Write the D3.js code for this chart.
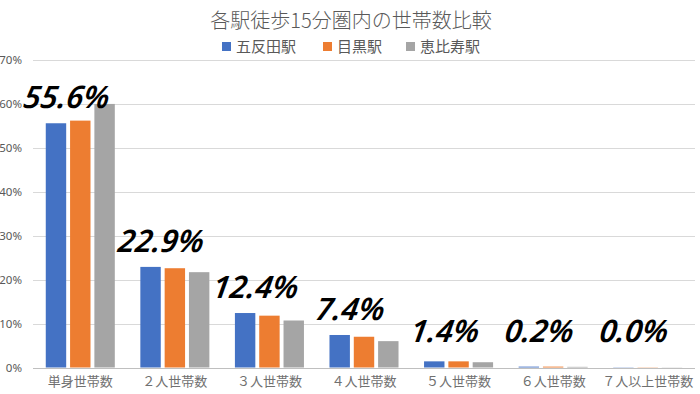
<!DOCTYPE html>
<html>
<head>
<meta charset="utf-8">
<script src="https://cdn.jsdelivr.net/npm/d3@7"></script>
<style>
body { margin: 0; background: #fff; }
svg { display: block; }
</style>
</head>
<body>
<div id="chart"></div>
<script>
var categories = ["単身世帯数", "２人世帯数", "３人世帯数", "４人世帯数", "５人世帯数", "６人世帯数", "７人以上世帯数"];
var stations = ["五反田駅", "目黒駅", "恵比寿駅"];
var gotanda = [55.6, 22.9, 12.4, 7.4, 1.4, 0.2, 0.05];
var meguro = [56.2, 22.6, 11.8, 7.0, 1.4, 0.2, 0.05];
var ebisu = [60.0, 21.7, 10.7, 6.0, 1.2, 0.15, 0.04];
var labelTexts = ["55.6%", "22.9%", "12.4%", "7.4%", "1.4%", "0.2%", "0.0%"];
var yTicks = [0, 10, 20, 30, 40, 50, 60, 70];
var colors = ["#4472C4", "#ED7D31", "#A5A5A5"];

var width = 700, height = 394;
var margin = {top: 60, right: 5, bottom: 26, left: 33};

var svg = d3.select("#chart").append("svg")
    .attr("width", width)
    .attr("height", height);

var x = d3.scaleBand()
    .domain(categories)
    .range([margin.left, width - margin.right])
    .paddingInner(0.27)
    .paddingOuter(0.135);

var x1 = d3.scaleBand()
    .domain(stations)
    .range([0, x.bandwidth()])
    .paddingInner(0.16);

var y = d3.scaleLinear()
    .domain([0, 70])
    .range([height - margin.bottom - 0.5, margin.top]);

// gridlines
svg.append("g")
    .selectAll("line")
    .data(yTicks)
    .enter().append("line")
    .attr("x1", margin.left)
    .attr("x2", width - margin.right)
    .attr("y1", function (d) { return Math.round(y(d)) + 0.5; })
    .attr("y2", function (d) { return Math.round(y(d)) + 0.5; })
    .attr("stroke", function (d) { return d == 0 ? "#bfbfbf" : "#d9d9d9"; })
    .attr("stroke-width", 1);

// y axis labels
var yAxis = d3.axisLeft(y)
    .tickValues(yTicks)
    .tickFormat(function (d) { return d + "%"; })
    .tickSize(0)
    .tickPadding(0);

var gy = svg.append("g")
    .attr("transform", "translate(" + (margin.left - 11) + ",0)")
    .call(yAxis);
gy.select(".domain").remove();
gy.selectAll("text")
    .attr("fill", "#595959")
    .style("font-family", "'Noto Sans', sans-serif")
    .style("font-size", "11.5px");

// bars
var series = [gotanda, meguro, ebisu];
series.forEach(function (vals, s) {
    svg.append("g")
        .selectAll("rect")
        .data(vals)
        .enter().append("rect")
        .attr("x", function (d, i) { return x(categories[i]) + x1(stations[s]); })
        .attr("width", x1.bandwidth())
        .attr("y", function (d) { return y(d); })
        .attr("height", function (d) { return y(0) - y(d); })
        .attr("fill", colors[s]);
});

// x axis labels
var xAxis = d3.axisBottom(x).tickSize(0).tickPadding(0);
var gx = svg.append("g")
    .attr("transform", "translate(0," + (height - 17) + ")")
    .call(xAxis);
gx.select(".domain").remove();
gx.selectAll("text")
    .attr("fill", "#707070")
    .style("font-family", "'Noto Sans CJK JP', sans-serif")
    .style("font-size", "13px");

// big value labels
svg.append("g")
    .selectAll("text")
    .data(labelTexts)
    .enter().append("text")
    .attr("transform", function (d, i) {
        var lx = x(categories[i]) + x.bandwidth() / 2 - 15;
        var ly = Math.min(y(gotanda[i]) - 15, 342);
        return "translate(" + lx + "," + ly + ") skewX(-8)";
    })
    .attr("text-anchor", "middle")
    .style("font-family", "'Noto Sans', sans-serif")
    .style("font-style", "italic")
    .style("font-weight", "600")
    .style("font-size", "31px")
    .attr("fill", "#000")
    .text(function (d) { return d; });

// title
svg.append("text")
    .attr("x", 351)
    .attr("y", 28)
    .attr("text-anchor", "middle")
    .attr("fill", "#595959")
    .style("font-family", "'Noto Sans CJK JP', sans-serif")
    .style("font-weight", "300")
    .style("font-size", "20px")
    .text("各駅徒歩15分圏内の世帯数比較");

// legend
var legendX = [222, 323, 406];
var legend = svg.append("g");
stations.forEach(function (s, i) {
    legend.append("rect")
        .attr("x", legendX[i])
        .attr("y", 42)
        .attr("width", 9)
        .attr("height", 9)
        .attr("fill", colors[i]);
    legend.append("text")
        .attr("x", legendX[i] + 14)
        .attr("y", 52)
        .attr("fill", "#595959")
        .style("font-family", "'Noto Sans CJK JP', sans-serif")
        .style("font-size", "15px")
        .text(s);
});
</script>
</body>
</html>
